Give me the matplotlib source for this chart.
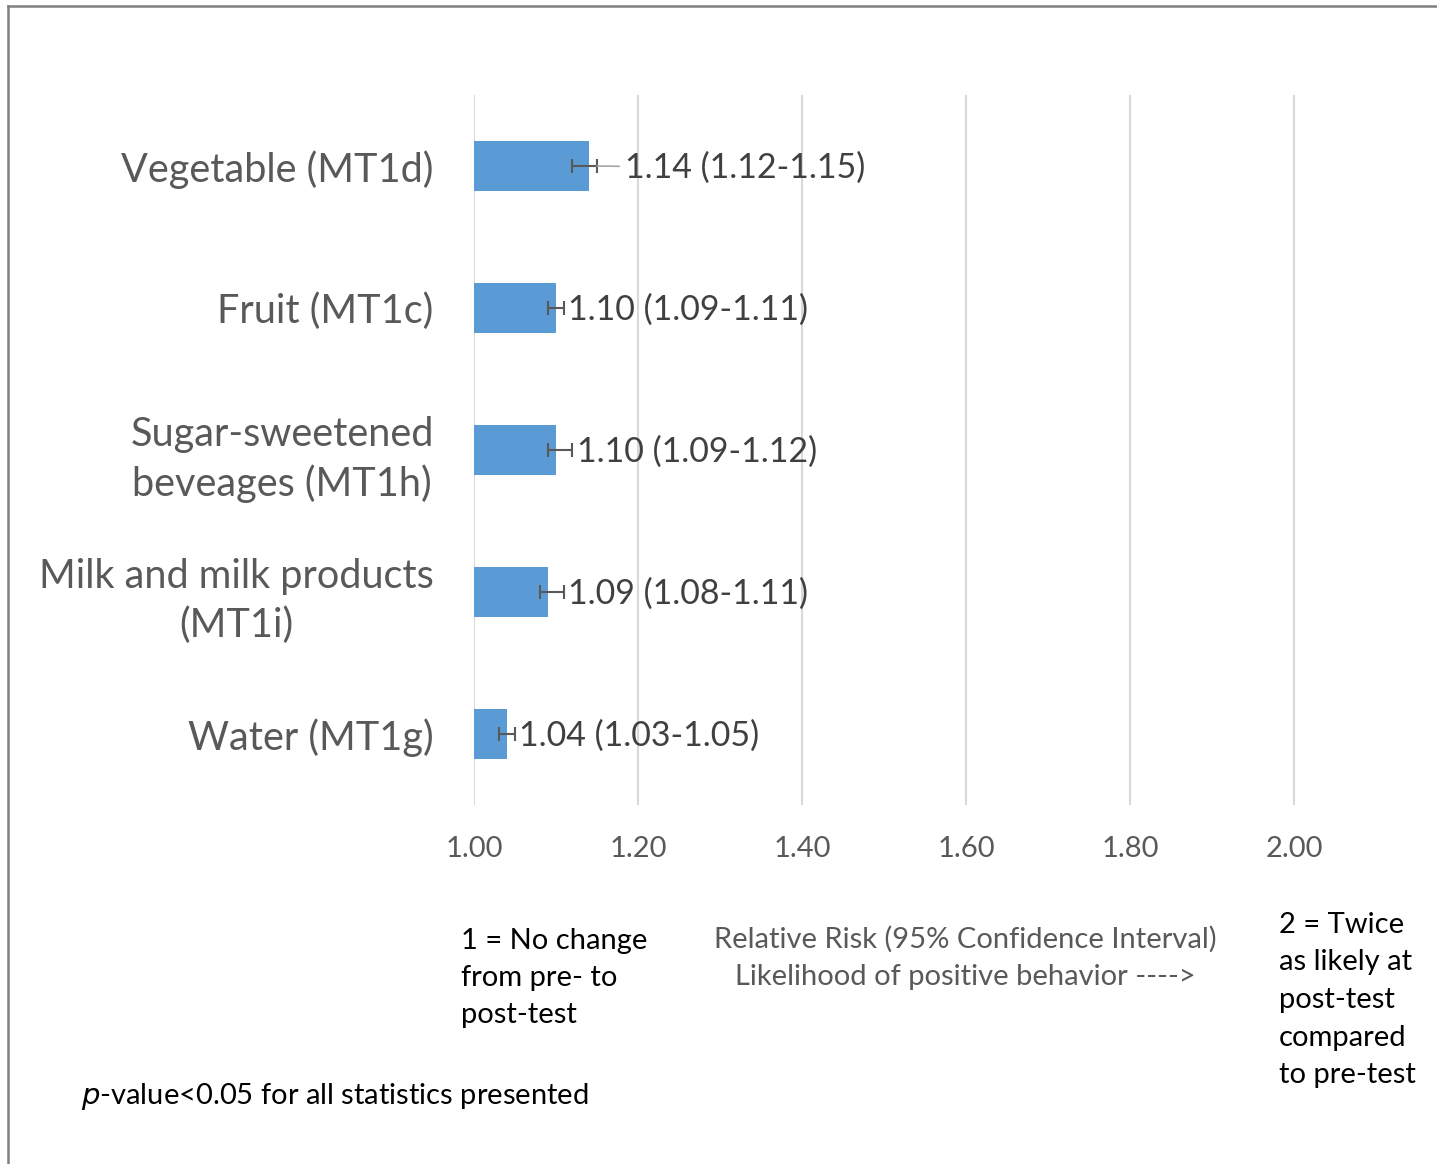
import matplotlib.pyplot as plt
from matplotlib.lines import Line2D

plt.rcParams['font.family'] = ['Lato', 'DejaVu Sans']

categories = ["Water (MT1g)", "Milk and milk products\n(MT1i)",
              "Sugar-sweetened\nbeveages (MT1h)", "Fruit (MT1c)", "Vegetable (MT1d)"]
rr = [1.04, 1.09, 1.10, 1.10, 1.14]
ci_low = [1.03, 1.08, 1.09, 1.09, 1.12]
ci_high = [1.05, 1.11, 1.12, 1.11, 1.15]
xticks = [1.00, 1.20, 1.40, 1.60, 1.80, 2.00]

W, H = 1437, 1164
fig = plt.figure(figsize=(W / 100, H / 100), dpi=100)
ax = fig.add_axes([474 / W, 1 - 805 / H, (1400 - 474) / W, (805 - 95) / H])

y = list(range(len(categories)))
widths = [v - 1 for v in rr]
ax.barh(y, widths, left=1.0, height=0.35, color='#5B9BD5', zorder=3)

err = [[v - lo for v, lo in zip(rr, ci_low)], [hi - v for v, hi in zip(rr, ci_high)]]
ax.errorbar(rr, y, xerr=err, fmt='none', ecolor='#595959', elinewidth=1.5,
            capsize=5, capthick=1.5, zorder=4)

# data labels; the top one sits further out with a leader line
for i, (v, lo, hi) in enumerate(zip(rr, ci_low, ci_high)):
    text = f"{v:.2f} ({lo:.2f}-{hi:.2f})"
    if i == len(rr) - 1:
        ax.annotate(text, xy=(hi, i), xytext=(20, -1.5), textcoords='offset points',
                    va='center', ha='left', fontsize=24.5, color='#404040',
                    arrowprops=dict(arrowstyle='-', color='#a6a6a6', lw=1.2,
                                    shrinkA=2, shrinkB=0), zorder=5)
    else:
        ax.annotate(text, xy=(hi, i), xytext=(3, -1.5), textcoords='offset points',
                    va='center', ha='left', fontsize=24.5, color='#404040', zorder=5)

ax.set_xlim(1.0, 1.0 + (1400 - 474) / 820 * 1.0)
ax.set_ylim(-0.5, len(categories) - 0.5)
ax.set_xticks(xticks)
ax.set_xticklabels([f"{t:.2f}" for t in xticks], fontsize=21, color='#595959')
ax.set_yticks(y)
ax.set_yticklabels(categories, fontsize=28.5, color='#595959', linespacing=1.38,
                   multialignment='center')
ax.tick_params(axis='both', length=0)
ax.tick_params(axis='x', pad=22)
ax.tick_params(axis='y', pad=29)
ax.grid(axis='x', color='#d9d9d9', lw=1.5, zorder=0)
for s in ax.spines.values():
    s.set_visible(False)

fig.text(965 / W, 1 - 958 / H,
         "Relative Risk (95% Confidence Interval)\nLikelihood of positive behavior ---->",
         ha='center', va='center', fontsize=21, color='#595959', linespacing=1.55)
fig.text(461 / W, 1 - 978 / H, "1 = No change\nfrom pre- to\npost-test",
         ha='left', va='center', fontsize=21, color='black', linespacing=1.52)
fig.text(1279 / W, 1 - 1000 / H, "2 = Twice\nas likely at\npost-test\ncompared\nto pre-test",
         ha='left', va='center', fontsize=21, color='black', linespacing=1.55)
fig.text(81 / W, 1 - 1097 / H, r"$\it{p}$-value<0.05 for all statistics presented",
         ha='left', va='center', fontsize=21, color='black')

# outer chart border (left and top edges)
bx, by = 8 / W, 1 - 6 / H
fig.add_artist(Line2D([bx, bx], [-0.01, by], color='#808080', lw=1.8))
fig.add_artist(Line2D([bx, 1.01], [by, by], color='#808080', lw=1.8))

fig.savefig('out.png', dpi=100)
